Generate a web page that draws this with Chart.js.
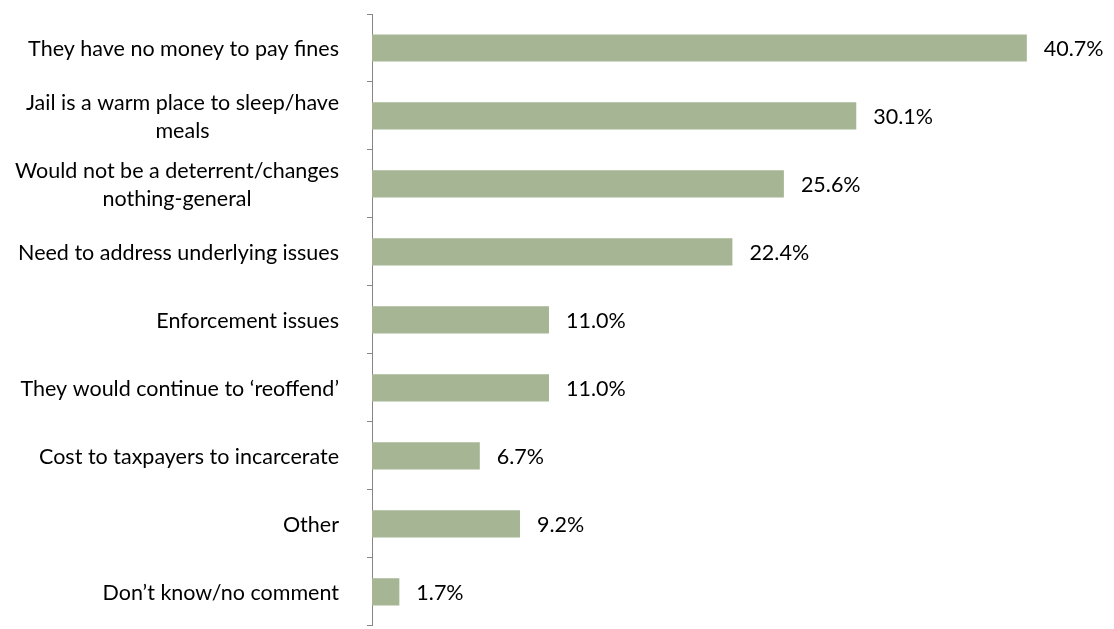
<!DOCTYPE html>
<html>
<head>
<meta charset="utf-8">
<script src="https://cdn.jsdelivr.net/npm/chart.js@4.4.1/dist/chart.umd.min.js"></script>
<style>
    html, body { margin: 0; padding: 0; background: #fff; overflow: hidden; }
    #wrap { width: 1114px; height: 636px; }
</style>
</head>
<body>
<div id="wrap"><canvas id="reasons-chart" width="1114" height="636"></canvas></div>
<script>
const categories = [
    ['They have no money to pay fines'],
    ['Jail is a warm place to sleep/have', 'meals'],
    ['Would not be a deterrent/changes', 'nothing-general'],
    ['Need to address underlying issues'],
    ['Enforcement issues'],
    ['They would continue to \u2018reoffend\u2019'],
    ['Cost to taxpayers to incarcerate'],
    ['Other'],
    ['Don\u2019t know/no comment']
];
const percentages = [40.7, 30.1, 25.6, 22.4, 11.0, 11.0, 6.7, 9.2, 1.7];

const FONT_FAMILY = 'Lato, "Open Sans", sans-serif';
const FONT_SIZE = 21.5;
const LINE_HEIGHT = 28;
const LABEL_RIGHT = 339;

// category labels: block right-aligned, lines centred inside the block (like Excel wraps)
const categoryLabels = {
    id: 'categoryLabels',
    afterDraw(chart) {
        const { ctx } = chart;
        const yScale = chart.scales.y;
        ctx.save();
        ctx.font = `${FONT_SIZE}px ${FONT_FAMILY}`;
        ctx.fillStyle = '#000';
        ctx.textAlign = 'center';
        ctx.textBaseline = 'middle';
        categories.forEach((lines, i) => {
            const blockWidth = Math.max(...lines.map(l => ctx.measureText(l).width));
            const cx = LABEL_RIGHT - blockWidth / 2;
            const cy = yScale.getPixelForTick(i) + 1;
            const top = cy - (lines.length - 1) * LINE_HEIGHT / 2;
            lines.forEach((line, j) => ctx.fillText(line, cx, top + j * LINE_HEIGHT));
        });
        ctx.restore();
    }
};

const valueLabels = {
    id: 'valueLabels',
    afterDatasetsDraw(chart) {
        const { ctx } = chart;
        const meta = chart.getDatasetMeta(0);
        ctx.save();
        ctx.font = `${FONT_SIZE}px ${FONT_FAMILY}`;
        ctx.fillStyle = '#000';
        ctx.textAlign = 'left';
        ctx.textBaseline = 'middle';
        meta.data.forEach((bar, i) => {
            ctx.fillText(percentages[i].toFixed(1) + '%', bar.x + 17, bar.y + 1);
        });
        ctx.restore();
    }
};

new Chart(document.getElementById('reasons-chart'), {
    type: 'bar',
    data: {
        labels: categories,
        datasets: [{
            data: percentages,
            backgroundColor: '#A6B594',
            borderWidth: 0,
            barPercentage: 0.4,
            categoryPercentage: 1
        }]
    },
    options: {
        indexAxis: 'y',
        responsive: false,
        animation: false,
        layout: { padding: { top: 14, right: 18, bottom: 0, left: 0 } },
        plugins: {
            legend: { display: false },
            tooltip: { enabled: false }
        },
        scales: {
            x: {
                display: false,
                min: 0,
                max: 45
            },
            y: {
                afterFit(scale) { scale.width = 372; },
                border: { display: true, color: '#868686', width: 1 },
                grid: {
                    display: true,
                    drawOnChartArea: false,
                    drawTicks: true,
                    tickLength: 5,
                    color: '#868686',
                    offset: true
                },
                ticks: {
                    callback: () => ''
                }
            }
        }
    },
    plugins: [categoryLabels, valueLabels]
});
</script>
</body>
</html>
